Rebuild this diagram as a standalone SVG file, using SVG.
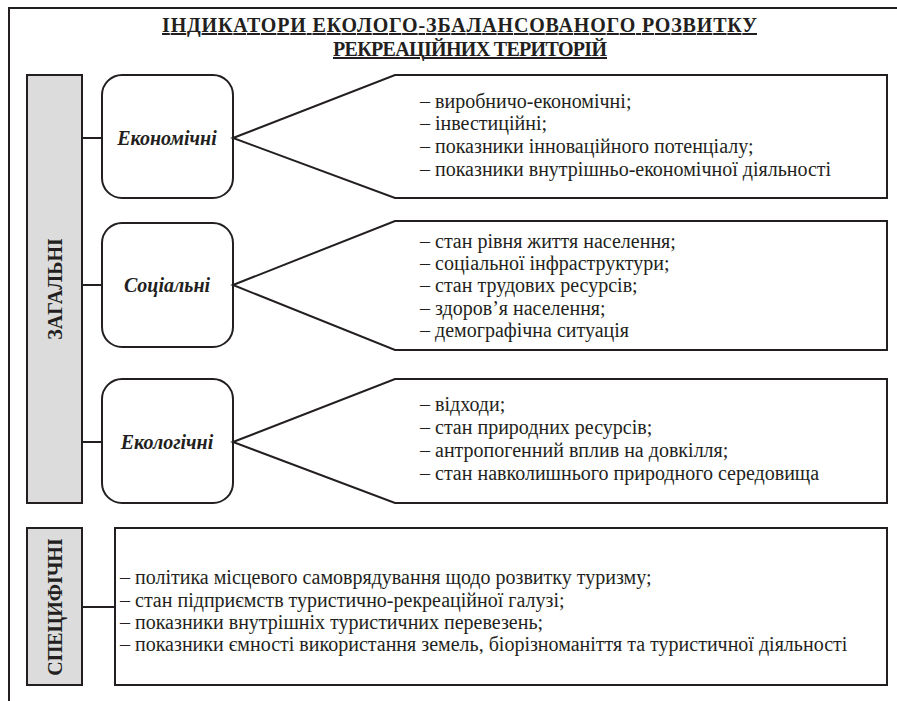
<svg xmlns="http://www.w3.org/2000/svg" width="897" height="701" viewBox="0 0 897 701">
<style>
.ln{stroke:#231f20;stroke-width:2;fill:none}
.box{stroke:#231f20;stroke-width:2;fill:#fff}
.bar{stroke:#231f20;stroke-width:2;fill:#dcdcdc}
text{font-family:'Liberation Serif','Times New Roman',serif;fill:#231f20}
.t{font-size:20px}
.lab{font-size:20px;font-weight:bold;font-style:italic}
.v{font-size:20px;font-weight:bold}
.title{font-size:20px;font-weight:bold;text-decoration:underline}
</style>
<rect x="0" y="0" width="897" height="701" fill="#fff"/>
<path class="ln" d="M9,701 L9,8 L897,8"/>
<g id="title">
<text class="title" x="162" y="32" textLength="595" lengthAdjust="spacing">ІНДИКАТОРИ ЕКОЛОГО-ЗБАЛАНСОВАНОГО РОЗВИТКУ</text>
<text class="title" x="333" y="56" textLength="274" lengthAdjust="spacing">РЕКРЕАЦІЙНИХ ТЕРИТОРІЙ</text>
</g>
<g id="connectors">
<line class="ln" x1="82" y1="138" x2="102" y2="138"/>
<line class="ln" x1="82" y1="285" x2="102" y2="285"/>
<line class="ln" x1="82" y1="442" x2="102" y2="442"/>
<line class="ln" x1="82" y1="607" x2="115" y2="607"/>
</g>
<g id="zahalni">
<rect class="bar" x="27" y="75" width="55" height="428"/>
<text class="v" transform="translate(62,289) rotate(-90)" text-anchor="middle">ЗАГАЛЬНІ</text>
</g>
<g id="spetsyfichni">
<rect class="bar" x="27" y="528" width="55" height="157"/>
<text class="v" transform="translate(62,607) rotate(-90)" text-anchor="middle">СПЕЦИФІЧНІ</text>
</g>
<g id="ekonomichni">
<rect class="box" x="102" y="75" width="131" height="123" rx="20"/>
<text class="lab" x="167" y="145" text-anchor="middle">Економічні</text>
</g>
<g id="sotsialni">
<rect class="box" x="102" y="223" width="131" height="124" rx="20"/>
<text class="lab" x="167" y="292" text-anchor="middle">Соціальні</text>
</g>
<g id="ekolohichni">
<rect class="box" x="102" y="379" width="131" height="124" rx="20"/>
<text class="lab" x="167" y="449" text-anchor="middle">Екологічні</text>
</g>
<g id="ekon-list">
<path class="box" d="M233,138 L395,75 L887,75 L887,198 L395,198 Z"/>
<text class="t" x="420" y="108">– виробничо-економічні;</text>
<text class="t" x="420" y="130">– інвестиційні;</text>
<text class="t" x="420" y="153">– показники інноваційного потенціалу;</text>
<text class="t" x="420" y="176">– показники внутрішньо-економічної діяльності</text>
</g>
<g id="sots-list">
<path class="box" d="M233,285 L395,221 L887,221 L887,350 L395,350 Z"/>
<text class="t" x="420" y="248">– стан рівня життя населення;</text>
<text class="t" x="420" y="270">– соціальної інфраструктури;</text>
<text class="t" x="420" y="292">– стан трудових ресурсів;</text>
<text class="t" x="420" y="315">– здоров’я населення;</text>
<text class="t" x="420" y="337">– демографічна ситуація</text>
</g>
<g id="ekol-list">
<path class="box" d="M233,442 L395,379 L887,379 L887,503 L395,503 Z"/>
<text class="t" x="420" y="411">– відходи;</text>
<text class="t" x="420" y="434">– стан природних ресурсів;</text>
<text class="t" x="420" y="457">– антропогенний вплив на довкілля;</text>
<text class="t" x="420" y="480">– стан навколишнього природного середовища</text>
</g>
<g id="spec-list">
<rect class="box" x="115" y="528" width="772" height="157"/>
<text class="t" x="120" y="584">– політика місцевого самоврядування щодо розвитку туризму;</text>
<text class="t" x="120" y="607">– стан підприємств туристично-рекреаційної галузі;</text>
<text class="t" x="120" y="629">– показники внутрішніх туристичних перевезень;</text>
<text class="t" x="120" y="651">– показники ємності використання земель, біорізноманіття та туристичної діяльності</text>
</g>
</svg>
